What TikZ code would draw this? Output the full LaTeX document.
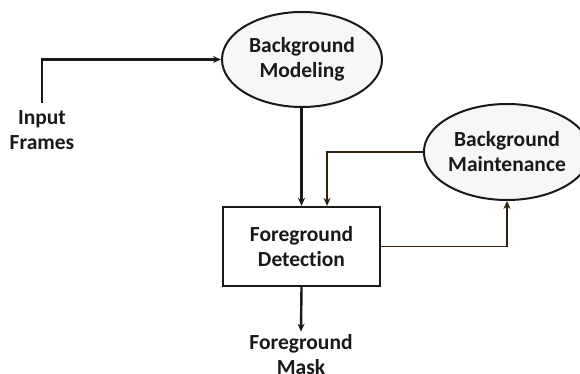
\documentclass[tikz,border=0pt]{standalone}
\usepackage{fontspec}
\setmainfont[Ligatures=NoCommon]{Carlito}
\usetikzlibrary{shapes.geometric,arrows.meta}
\begin{document}
\begin{tikzpicture}[x=1pt,y=1pt,
  txt/.style={font=\bfseries\fontsize{21.5}{25}\selectfont, align=center, text=black!90},
  ell/.style={ellipse, draw=black!90, line width=2pt, fill=gray!6, inner sep=0pt},
  boxnode/.style={rectangle, draw=black!90, line width=2.2pt, fill=white, inner sep=0pt, minimum width=157pt, minimum height=79pt},
  mainarrow/.style={line width=2.4pt, draw=black!90, -{Stealth[length=8pt,width=7pt]}},
  fbarrow/.style={line width=1.4pt, draw=black!75!brown, -{Stealth[length=8pt,width=7pt]}}
]
\useasboundingbox (0,0) rectangle (580,374);
\fill[white] (0,0) rectangle (580,374);
\node[ell, txt, minimum width=160pt, minimum height=95pt] (mod) at (302,314.5) {Background\\Modeling};
\node[ell, txt, minimum width=152pt, minimum height=96pt] (maint) at (507,222) {Background\\Maintenance};
\node[boxnode, txt] (box) at (301.5,127.5) {Foreground\\Detection};
\node[txt, inner sep=0pt] (in) at (42,244) {Input\\Frames};
\node[txt, inner sep=0pt] (mask) at (301,19) {Foreground\\Mask};
\draw[mainarrow] ([yshift=7pt]in.north) |- (mod.west);
\draw[mainarrow] (mod.south -| box.north) -- (box.north);
\draw[fbarrow] (maint.west) -| ([xshift=25.5pt]box.north);
\draw[fbarrow] (box.east) -| (maint.south);
\draw[mainarrow] (box.south) -- ([yshift=3pt]mask.north);
\end{tikzpicture}
\end{document}
